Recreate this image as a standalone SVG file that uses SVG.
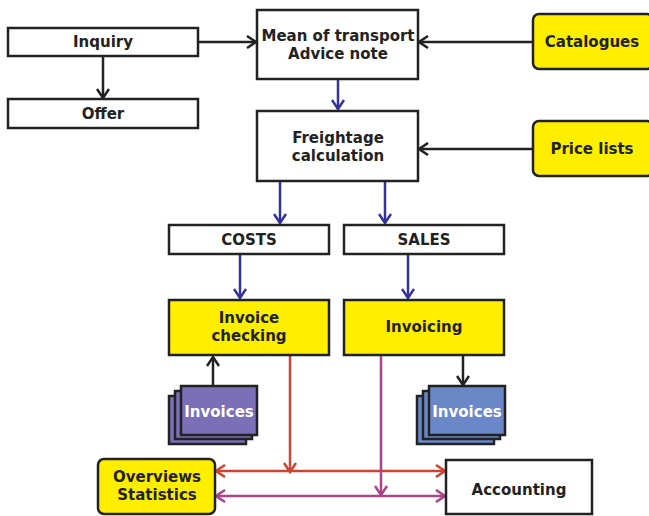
<svg xmlns="http://www.w3.org/2000/svg" width="649" height="516" viewBox="0 0 649 516">
<style>
.box{fill:#fff;stroke:#222;stroke-width:2.5}
.yel{fill:#ffee00;stroke:#222;stroke-width:2.5}
.t{font-family:"DejaVu Sans",Verdana,sans-serif;font-weight:bold;font-size:15px;fill:#222;text-anchor:middle}
.tw{font-family:"DejaVu Sans",Verdana,sans-serif;font-weight:bold;font-size:15px;fill:#fff;text-anchor:middle}
.k{stroke:#222;stroke-width:2.5;fill:none;marker-end:url(#ak)}
.b{stroke:#333399;stroke-width:2.5;fill:none;marker-end:url(#ab)}
.r{stroke:#cc4433;stroke-width:2.5;fill:none}
.m{stroke:#aa4488;stroke-width:2.5;fill:none}
</style>
<defs>
<marker id="ak" viewBox="0 0 14 14" refX="12" refY="7" markerWidth="14" markerHeight="14" markerUnits="userSpaceOnUse" orient="auto"><path d="M3,1 L12,7 L3,13" fill="none" stroke="#222" stroke-width="2.5"/></marker>
<marker id="ab" viewBox="0 0 14 14" refX="12" refY="7" markerWidth="14" markerHeight="14" markerUnits="userSpaceOnUse" orient="auto"><path d="M3,1 L12,7 L3,13" fill="none" stroke="#333399" stroke-width="2.5"/></marker>
<marker id="ar" viewBox="0 0 14 14" refX="12" refY="7" markerWidth="14" markerHeight="14" markerUnits="userSpaceOnUse" orient="auto-start-reverse"><path d="M3,1 L12,7 L3,13" fill="none" stroke="#cc4433" stroke-width="2.5"/></marker>
<marker id="am" viewBox="0 0 14 14" refX="12" refY="7" markerWidth="14" markerHeight="14" markerUnits="userSpaceOnUse" orient="auto-start-reverse"><path d="M3,1 L12,7 L3,13" fill="none" stroke="#aa4488" stroke-width="2.5"/></marker>
</defs>
<g id="connectors">
<path class="k" d="M103,56 V98"/>
<path class="k" d="M198,42 H256"/>
<path class="k" d="M533,42 H419"/>
<path class="k" d="M533,149 H419"/>
<path class="b" d="M338,79 V109"/>
<path class="b" d="M280,181 V223"/>
<path class="b" d="M385,181 V223"/>
<path class="b" d="M240,254 V298"/>
<path class="b" d="M408,254 V298"/>
<path class="k" d="M213,386 V357"/>
<path class="k" d="M463,355 V385"/>
<path class="r" d="M290,355 V472" marker-end="url(#ar)"/>
<path class="r" d="M216,471 H445" marker-start="url(#ar)" marker-end="url(#ar)"/>
<path class="m" d="M381,355 V495" marker-end="url(#am)"/>
<path class="m" d="M216,496 H445" marker-start="url(#am)" marker-end="url(#am)"/>
</g>
<g id="inquiry"><rect class="box" x="8" y="28" width="190" height="28"/><text class="t" x="103" y="47">Inquiry</text></g>
<g id="offer"><rect class="box" x="8" y="99" width="190" height="29"/><text class="t" x="103" y="119">Offer</text></g>
<g id="mean"><rect class="box" x="257" y="10" width="161" height="69"/><text class="t" x="338" y="41">Mean of transport</text><text class="t" x="338" y="59">Advice note</text></g>
<g id="catalogues"><rect class="yel" x="533" y="14" width="120" height="55" rx="6"/><text class="t" x="592" y="47">Catalogues</text></g>
<g id="freightage"><rect class="box" x="257" y="111" width="161" height="70"/><text class="t" x="338" y="143">Freightage</text><text class="t" x="338" y="161">calculation</text></g>
<g id="pricelists"><rect class="yel" x="533" y="121" width="120" height="55" rx="6"/><text class="t" x="592" y="154">Price lists</text></g>
<g id="costs"><rect class="box" x="169" y="225" width="160" height="29"/><text class="t" x="249" y="245">COSTS</text></g>
<g id="sales"><rect class="box" x="344" y="225" width="160" height="29"/><text class="t" x="424" y="245">SALES</text></g>
<g id="invoicechecking"><rect class="yel" x="169" y="300" width="160" height="55"/><text class="t" x="249" y="323">Invoice</text><text class="t" x="249" y="341">checking</text></g>
<g id="invoicing"><rect class="yel" x="344" y="300" width="160" height="55"/><text class="t" x="424" y="332">Invoicing</text></g>
<g id="invoices-left">
<rect x="169" y="396" width="77" height="48" fill="#7b6fb8" stroke="#222" stroke-width="2.5"/>
<rect x="175" y="391" width="77" height="48" fill="#7b6fb8" stroke="#222" stroke-width="2.5"/>
<rect x="181" y="386" width="76" height="49" fill="#7b6fb8" stroke="#222" stroke-width="2.5"/>
<text class="tw" x="219" y="417">Invoices</text></g>
<g id="invoices-right">
<rect x="417" y="396" width="77" height="48" fill="#6a87c8" stroke="#222" stroke-width="2.5"/>
<rect x="423" y="391" width="77" height="48" fill="#6a87c8" stroke="#222" stroke-width="2.5"/>
<rect x="429" y="386" width="76" height="49" fill="#6a87c8" stroke="#222" stroke-width="2.5"/>
<text class="tw" x="467" y="417">Invoices</text></g>
<g id="overviews"><rect class="yel" x="98" y="459" width="117" height="55" rx="6"/><text class="t" x="157" y="482">Overviews</text><text class="t" x="157" y="500">Statistics</text></g>
<g id="accounting"><rect class="box" x="446" y="460" width="146" height="54"/><text class="t" x="519" y="495">Accounting</text></g>
</svg>
